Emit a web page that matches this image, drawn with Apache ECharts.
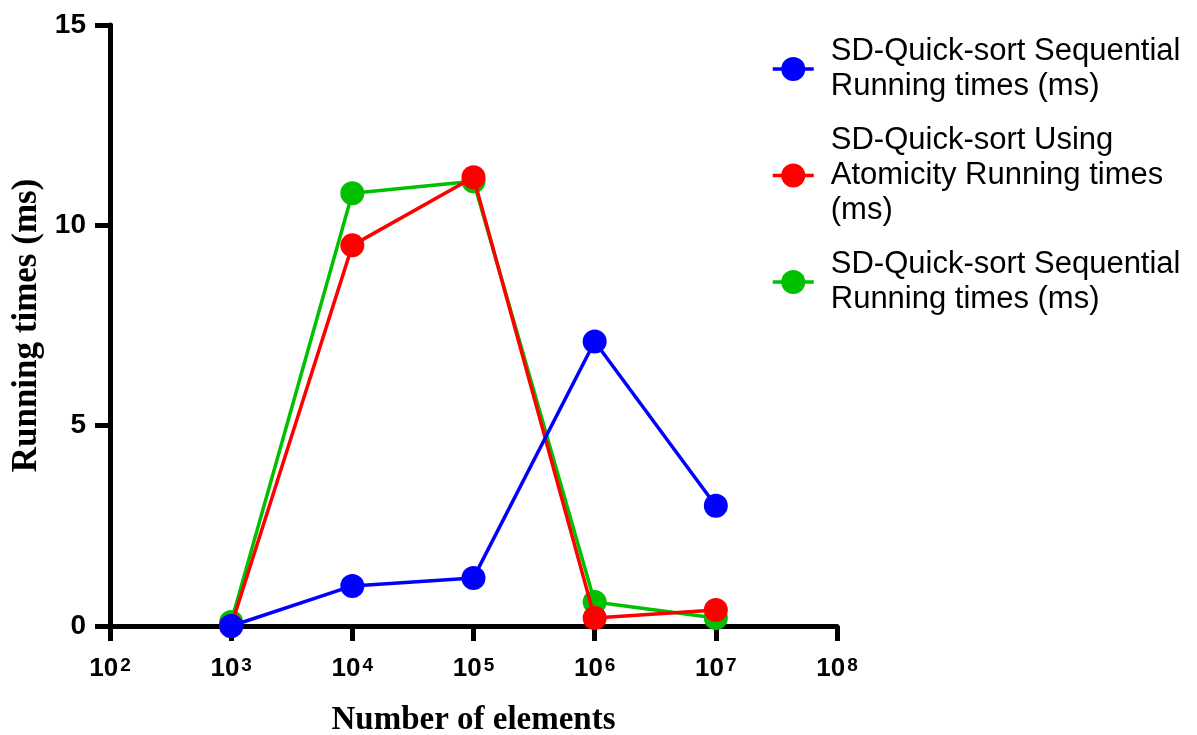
<!DOCTYPE html>
<html>
<head>
<meta charset="utf-8">
<script src="https://cdn.jsdelivr.net/npm/echarts@6/dist/echarts.min.js"></script>
<style>html,body{margin:0;padding:0;background:#fff;}#c{width:1197px;height:735px;}</style>
</head>
<body>
<div id="c"></div>
<script>
var xValues = [1e3, 1e4, 1e5, 1e6, 1e7];
var seqValues = [0.0, 1.0, 1.2, 7.1, 3.0];
var atomValues = [0.0, 9.5, 11.2, 0.2, 0.4];
var seq2Values = [0.1, 10.8, 11.1, 0.6, 0.2];
var yTicks = [0, 5, 10, 15];
var seriesNames = [
  'SD-Quick-sort Sequential Running times (ms)',
  'SD-Quick-sort Using Atomicity Running times (ms)',
  'SD-Quick-sort Sequential Running times (ms) '
];
var legendLabels = [
  'SD-Quick-sort Sequential\nRunning times (ms)',
  'SD-Quick-sort Using\nAtomicity Running times\n(ms)',
  'SD-Quick-sort Sequential\nRunning times (ms)'
];
var colors = ['#0000ff', '#ff0000', '#00c000'];

function pairs(vals) { return xValues.map(function (x, i) { return [x, vals[i]]; }); }

var chart = echarts.init(document.getElementById('c'));
var allVals = [seqValues, atomValues, seq2Values];
var series = allVals.map(function (v, i) {
  return {
    name: seriesNames[i],
    type: 'line',
    data: pairs(v),
    symbol: 'circle',
    symbolSize: 24,
    z: 5 - i,
    lineStyle: { width: 3.5, color: colors[i] },
    itemStyle: { color: colors[i] },
    animation: false
  };
});

chart.setOption({
  animation: false,
  grid: { left: 110, top: 25, width: 727, height: 601, containLabel: false, outerBoundsMode: 'none' },
  legend: {
    orient: 'vertical',
    left: 766,
    top: 29,
    itemGap: 19,
    itemWidth: 41,
    itemHeight: 30,
    selectedMode: false,
    data: seriesNames,
    lineStyle: { width: 3.5 },
    formatter: function (name) { return legendLabels[seriesNames.indexOf(name)]; },
    textStyle: {
      fontFamily: 'Liberation Sans, Arial, sans-serif',
      fontSize: 31,
      lineHeight: 35,
      color: '#000',
      padding: [0, 0, 0, 12]
    }
  },
  xAxis: {
    type: 'log',
    logBase: 10,
    min: 100,
    max: 1e8,
    splitNumber: 6,
    name: 'Number of elements',
    nameLocation: 'middle',
    nameGap: 78,
    nameTextStyle: { fontFamily: 'Liberation Serif, Times New Roman, serif', fontWeight: 'bold', fontSize: 33, color: '#000' },
    axisLine: { show: true, lineStyle: { color: '#000', width: 5 } },
    axisTick: { show: true, length: 15, lineStyle: { color: '#000', width: 5 } },
    splitLine: { show: false },
    axisLabel: {
      margin: 30,
      formatter: function (v) {
        var e = Math.round(Math.log10(v));
        return '{b|10}{s|' + e + '}';
      },
      rich: {
        b: { fontFamily: 'Liberation Sans, Arial', fontWeight: 'bold', fontSize: 26, lineHeight: 26, color: '#000' },
        s: { fontFamily: 'Liberation Sans, Arial', fontWeight: 'bold', fontSize: 19, lineHeight: 16, verticalAlign: 'top', padding: [0, 0, 0, 2], color: '#000' }
      }
    }
  },
  yAxis: {
    type: 'value',
    min: yTicks[0],
    max: yTicks[yTicks.length - 1],
    interval: 5,
    name: 'Running times (ms)',
    nameLocation: 'middle',
    nameGap: 65,
    nameTextStyle: { fontFamily: 'Liberation Serif, Times New Roman, serif', fontWeight: 'bold', fontSize: 35, color: '#000' },
    axisLine: { show: true, lineStyle: { color: '#000', width: 5 } },
    axisTick: { show: true, length: 15, lineStyle: { color: '#000', width: 5 } },
    splitLine: { show: false },
    axisLabel: {
      margin: 24,
      fontFamily: 'Liberation Sans, Arial',
      fontWeight: 'bold',
      fontSize: 28,
      color: '#000'
    }
  },
  series: series
});
</script>
</body>
</html>
